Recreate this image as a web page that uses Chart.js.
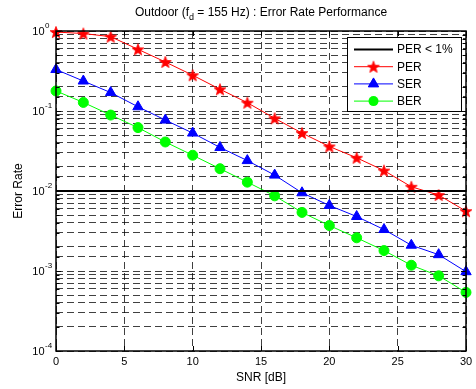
<!DOCTYPE html>
<html>
<head>
<meta charset="utf-8">
<script src="https://cdn.jsdelivr.net/npm/chart.js@4.4.1/dist/chart.umd.min.js"></script>
<style>
  html, body { margin: 0; padding: 0; background: #fff; }
  #wrap { width: 476px; height: 389px; }
</style>
</head>
<body>
<div id="wrap"><canvas id="chart" width="476" height="389"></canvas></div>
<script>
// ===== Data =====
const snr = [0, 2, 4, 6, 8, 10, 12, 14, 16, 18, 20, 22, 24, 26, 28, 30];
const per = [0.97, 0.93, 0.85, 0.59, 0.41, 0.28, 0.187, 0.127, 0.081, 0.053, 0.036, 0.026, 0.018, 0.0113, 0.0089, 0.0056];
const ser = [0.33, 0.237, 0.17, 0.113, 0.077, 0.053, 0.035, 0.024, 0.0158, 0.0095, 0.0066, 0.0048, 0.0033, 0.0021, 0.0016, 0.00098];
const ber = [0.178, 0.128, 0.089, 0.062, 0.041, 0.028, 0.019, 0.0129, 0.0087, 0.0054, 0.0037, 0.0026, 0.0018, 0.00118, 0.00087, 0.00054];
const perLimit = 0.01;
const xTicks = [0, 5, 10, 15, 20, 25, 30];
const seriesNames = ['PER < 1%', 'PER', 'SER', 'BER'];

const FONT = '"Liberation Sans", Arial, Helvetica, sans-serif';

// filled pentagram, like matlab's 'p' marker
function makeStar(color, r) {
  const s = Math.ceil(r * 2 + 3);
  const c = document.createElement('canvas');
  c.width = c.height = s;
  const g = c.getContext('2d');
  g.beginPath();
  for (let i = 0; i < 10; i++) {
    const rad = i % 2 ? r * 0.42 : r;
    const a = -Math.PI / 2 + i * Math.PI / 5;
    g.lineTo(s / 2 + rad * Math.cos(a), s / 2 + rad * Math.sin(a) + 0.6);
  }
  g.closePath();
  g.fillStyle = color;
  g.fill();
  g.strokeStyle = color;
  g.lineWidth = 0.8;
  g.stroke();
  return c;
}
const starRed = makeStar('#ff0000', 6.2);

const toXY = (ys) => snr.map((x, i) => ({ x, y: ys[i] }));

// ===== Text, frame, ticks and legend drawn on top =====
const matlabLook = {
  id: 'matlabLook',
  afterDatasetsDraw(chart) {
    const { ctx, chartArea: a, scales } = chart;
    const xs = scales.x, ys = scales.y;
    ctx.save();

    // frame
    ctx.strokeStyle = '#000';
    ctx.lineWidth = 1.5;
    ctx.strokeRect(a.left, a.top, a.right - a.left, a.bottom - a.top);

    // inner tick marks
    ctx.lineWidth = 1;
    ctx.beginPath();
    ys.ticks.forEach(t => {
      const y = Math.round(ys.getPixelForValue(t.value)) + 0.5;
      const major = Math.abs(Math.log10(t.value) - Math.round(Math.log10(t.value))) < 1e-9;
      const len = major ? 5 : 3.5;
      ctx.moveTo(a.left, y); ctx.lineTo(a.left + len, y);
      ctx.moveTo(a.right, y); ctx.lineTo(a.right - len, y);
    });
    xTicks.forEach(v => {
      const x = Math.round(xs.getPixelForValue(v)) + 0.5;
      ctx.moveTo(x, a.bottom); ctx.lineTo(x, a.bottom - 5);
      ctx.moveTo(x, a.top); ctx.lineTo(x, a.top + 5);
    });
    ctx.stroke();

    ctx.fillStyle = '#000';
    // y tick labels 10^n
    ys.ticks.forEach(t => {
      const p = Math.log10(t.value);
      if (Math.abs(p - Math.round(p)) > 1e-9) return;
      const y = ys.getPixelForValue(t.value);
      ctx.font = '11px ' + FONT;
      ctx.textAlign = 'right';
      ctx.textBaseline = 'alphabetic';
      ctx.fillText('10', a.left - 11.5, y + 4);
      ctx.font = '8px ' + FONT;
      ctx.textAlign = 'left';
      ctx.fillText(String(Math.round(p)).replace('\u2212', '-'), a.left - 11, y - 3);
    });

    // x tick labels
    ctx.font = '11px ' + FONT;
    ctx.textAlign = 'center';
    xTicks.forEach(v => ctx.fillText(String(v), xs.getPixelForValue(v), a.bottom + 14));

    // axis titles
    ctx.font = '12px ' + FONT;
    ctx.fillText('SNR [dB]', (a.left + a.right) / 2, a.bottom + 30);
    ctx.save();
    ctx.translate(22, (a.top + a.bottom) / 2);
    ctx.rotate(-Math.PI / 2);
    ctx.fillText('Error Rate', 0, 0);
    ctx.restore();

    // title with subscript
    const p1 = 'Outdoor (f', sub = 'd', p2 = ' = 155 Hz) : Error Rate Performance';
    ctx.font = '12px ' + FONT;
    const w1 = ctx.measureText(p1).width, w3 = ctx.measureText(p2).width;
    ctx.font = '9px ' + FONT;
    const w2 = ctx.measureText(sub).width;
    let tx = (a.left + a.right) / 2 - (w1 + w2 + w3) / 2;
    ctx.textAlign = 'left';
    ctx.font = '12px ' + FONT;
    ctx.fillText(p1, tx, 16);
    ctx.font = '9px ' + FONT;
    ctx.fillText(sub, tx + w1, 19.5);
    ctx.font = '12px ' + FONT;
    ctx.fillText(p2, tx + w1 + w2, 16);

    // legend box
    const lx = a.right - 119, ly = a.top + 6, lw = 114, lh = 74;
    ctx.fillStyle = '#fff';
    ctx.fillRect(lx, ly, lw, lh);
    ctx.strokeStyle = '#000';
    ctx.lineWidth = 1;
    ctx.strokeRect(lx + 0.5, ly + 0.5, lw, lh);
    chart.data.datasets.forEach((ds, i) => {
      const y = ly + 12.5 + i * 17.2;
      ctx.strokeStyle = ds.borderColor;
      ctx.lineWidth = ds.borderWidth;
      ctx.beginPath();
      ctx.moveTo(lx + 7, y); ctx.lineTo(lx + 46, y);
      ctx.stroke();
      const mx = lx + 26.5;
      if (ds.pointStyle === 'triangle') {
        Chart.helpers.drawPoint(ctx, { pointStyle: 'triangle', radius: ds.pointRadius, borderWidth: 1 }, mx, y);
        ctx.fillStyle = ds.pointBackgroundColor;
        ctx.fill();
      } else if (ds.pointStyle === 'circle') {
        ctx.beginPath();
        ctx.arc(mx, y, ds.pointRadius, 0, Math.PI * 2);
        ctx.fillStyle = ds.pointBackgroundColor;
        ctx.fill();
      } else if (ds.pointStyle instanceof HTMLCanvasElement) {
        const c = ds.pointStyle;
        ctx.drawImage(c, mx - c.width / 2, y - c.height / 2);
      }
      ctx.fillStyle = '#000';
      ctx.font = '12px ' + FONT;
      ctx.textAlign = 'left';
      ctx.textBaseline = 'middle';
      ctx.fillText(ds.label, lx + 50, y + 0.5);
    });
    ctx.restore();
  }
};

new Chart(document.getElementById('chart'), {
  type: 'line',
  data: {
    datasets: [
      { label: seriesNames[0], data: [{ x: 0, y: perLimit }, { x: 30, y: perLimit }],
        borderColor: '#000', borderWidth: 2, pointRadius: 0, pointStyle: false },
      { label: seriesNames[1], data: toXY(per), borderColor: '#ff0000', borderWidth: 1,
        pointStyle: starRed, pointRadius: 6, pointBackgroundColor: '#ff0000' },
      { label: seriesNames[2], data: toXY(ser), borderColor: '#0000ff', borderWidth: 1,
        pointStyle: 'triangle', pointRadius: 6, pointBackgroundColor: '#0000ff', pointBorderColor: '#0000ff' },
      { label: seriesNames[3], data: toXY(ber), borderColor: '#00ff00', borderWidth: 1,
        pointStyle: 'circle', pointRadius: 5, pointBackgroundColor: '#00ff00', pointBorderColor: '#00ff00' }
    ]
  },
  options: {
    responsive: false,
    animation: false,
    clip: false,
    layout: { padding: { top: 31, right: 10, left: 0, bottom: 0 } },
    plugins: { legend: { display: false }, tooltip: { enabled: false }, title: { display: false } },
    scales: {
      x: {
        type: 'linear', min: 0, max: 30,
        afterBuildTicks: (s) => { s.ticks = xTicks.map(v => ({ value: v })); },
        afterFit: (s) => { s.height = 38; },
        ticks: { display: false },
        grid: { color: 'rgba(0,0,0,0.75)', lineWidth: 1, drawTicks: false },
        border: { display: false, dash: [7, 4] }
      },
      y: {
        type: 'logarithmic', min: 1e-4, max: 1,
        afterFit: (s) => { s.width = 56; },
        ticks: { display: false, autoSkip: false },
        grid: { color: 'rgba(0,0,0,0.75)', lineWidth: 1, drawTicks: false },
        border: { display: false, dash: [7, 4] }
      }
    }
  },
  plugins: [matlabLook]
});
</script>
</body>
</html>
